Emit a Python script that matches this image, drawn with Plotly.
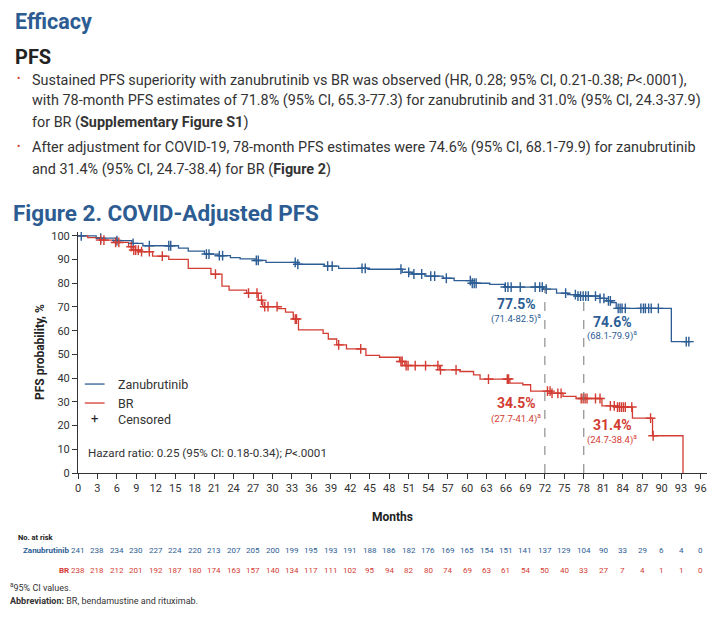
import plotly.graph_objects as go

# --- data ---
zanu_t = [0, 2.8, 6.0, 8.3, 10.0, 15.5, 17.0, 19.5, 21.8, 23.5, 25.0, 27.3, 29.0,
          33.8, 38.0, 40.2, 44.7, 50.0, 51.5, 53.5, 56.3, 58.0, 60.8, 63.5, 65.8,
          71.8, 73.8, 75.5, 77.0, 80.5, 81.5, 82.3, 83.0, 91.5]
zanu_s = [100, 99.0, 98.0, 96.8, 95.8, 94.8, 93.5, 92.3, 91.6, 90.8, 90.3, 89.6, 88.8,
          88.0, 87.2, 86.3, 85.9, 84.6, 83.9, 83.0, 82.1, 81.1, 80.0, 79.5, 78.4,
          77.5, 75.8, 75.2, 74.6, 73.6, 72.6, 71.8, 69.4, 55.4]
zanu_end = 94.4

br_t = [0, 1.5, 3.3, 5.5, 7.8, 8.5, 9.5, 11.5, 14.0, 17.0, 20.5, 22.2, 23.3, 26.0,
        27.8, 28.5, 30.8, 32.0, 33.2, 34.0, 37.8, 38.6, 39.9, 41.4, 44.4, 46.5,
        49.6, 50.4, 55.8, 58.9, 61.0, 62.0, 66.6, 68.6, 69.8, 73.0, 74.8, 76.8,
        80.8, 83.0, 85.5, 88.6, 93.3]
br_s = [100, 99.2, 98.2, 97.2, 95.4, 94.0, 93.3, 91.4, 90.1, 86.3, 83.8, 78.8, 77.1, 75.8,
        72.9, 70.1, 69.3, 67.8, 64.9, 60.3, 58.9, 56.5, 54.0, 52.3, 49.6, 48.8,
        47.0, 45.3, 43.5, 42.8, 41.4, 39.6, 37.9, 37.2, 34.5, 33.6, 32.3, 31.4,
        28.3, 27.8, 23.1, 15.7, 0]

zanu_cens = [0.5, 3.5, 6, 8.5, 11, 14, 14.3, 19.8, 20.2, 21.8, 22.3, 27.5, 27.8, 33.5,
             33.9, 38.5, 39.2, 43.8, 44.3, 49.8, 51, 51.8, 53, 54.4, 55, 56.8, 60.5,
             60.8, 61.1, 61.4, 65.9, 66.3, 66.8, 68.2, 70.5, 71.2, 71.6, 72.2, 75.2,
             76.7, 77.1, 77.5, 77.9, 78.3, 78.7, 79.8, 80.5, 81.1, 81.8, 82.1, 83.3,
             83.6, 83.9, 84.4, 86.8, 87.2, 87.5, 88.0, 88.4, 89.5, 93.8, 94.2]
br_cens = [3.5, 4, 5.8, 6.3, 8.2, 8.6, 8.9, 9.3, 9.8, 11, 13, 21.2, 26.3, 27.6, 28.3,
           28.8, 29.3, 30.7, 33.5, 33.7, 40.2, 43.6, 49.8, 50, 50.6, 50.9, 52, 53.6,
           55.5, 55.9, 58.3, 63.3, 66.2, 66.4, 72.4, 72.8, 73.1, 74, 74.5, 77.6, 77.9,
           78.2, 78.5, 79.8, 80.5, 82.1, 82.7, 83.2, 83.5, 83.8, 84.1, 84.4, 85.4,
           88.3, 88.7]

risk_months = list(range(0, 97, 3))
zanu_risk = [241, 238, 234, 230, 227, 224, 220, 213, 207, 205, 200, 199, 195, 193, 191,
             188, 186, 182, 176, 169, 165, 154, 151, 141, 137, 129, 104, 90, 33, 29, 6, 4, 0]
br_risk = [238, 218, 212, 201, 192, 187, 180, 174, 163, 157, 140, 134, 117, 111, 102,
           95, 94, 82, 80, 74, 69, 63, 61, 54, 50, 40, 33, 27, 7, 4, 1, 1, 0]

BLUE = "#2c5d94"
RED = "#d23c33"
TITLE_BLUE = "#2c5c92"
FONT = "Roboto"

# the page body has an 8px margin, so the figure is 16px smaller than the window
W, H = 701, 607
# plot area in window pixels
X0, X1, Y0, Y1 = 78, 707, 232, 473
OFF = 8


def px(x):
    return (x - X0) / (X1 - X0)


def py(y):
    return (Y1 - y) / (Y1 - Y0)


def step_at(times, surv, t):
    val = surv[0]
    for ti, si in zip(times, surv):
        if ti <= t:
            val = si
    return val


fig = go.Figure()

fig.add_trace(go.Scatter(x=zanu_t + [zanu_end], y=zanu_s + [zanu_s[-1]], mode="lines",
                         line=dict(color=BLUE, width=1.3, shape="hv"), hoverinfo="skip"))
fig.add_trace(go.Scatter(x=br_t, y=br_s, mode="lines",
                         line=dict(color=RED, width=1.3, shape="hv"), hoverinfo="skip"))
fig.add_trace(go.Scatter(x=zanu_cens, y=[step_at(zanu_t, zanu_s, t) for t in zanu_cens],
                         mode="markers", hoverinfo="skip",
                         marker=dict(symbol="cross-thin", size=7, line=dict(color=BLUE, width=1.4))))
fig.add_trace(go.Scatter(x=br_cens, y=[step_at(br_t, br_s, t) for t in br_cens],
                         mode="markers", hoverinfo="skip",
                         marker=dict(symbol="cross-thin", size=7, line=dict(color=RED, width=1.4))))

# dashed landmark lines
for m in (72, 78):
    fig.add_shape(type="line", x0=m, x1=m, y0=0, y1=step_at(zanu_t, zanu_s, m),
                  line=dict(color="#777777", width=1, dash="dash"))

ann = []


def txt(x, y, s, size, color="#333333", anchor="left", xref="paper", yref="paper", **kw):
    ann.append(dict(x=x, y=y, xref=xref, yref=yref, text=s, showarrow=False,
                    xanchor=anchor, yanchor="middle",
                    font=dict(family=FONT, size=size, color=color), **kw))


# landmark labels
txt(67.6, 71.3, "<b>77.5%</b>", 14, BLUE, "center", "x", "y")
txt(67.6, 65.2, "(71.4-82.5)<sup>a</sup>", 9.5, BLUE, "center", "x", "y")
txt(82.5, 63.8, "<b>74.6%</b>", 14, BLUE, "center", "x", "y")
txt(82.4, 57.8, "(68.1-79.9)<sup>a</sup>", 9.5, BLUE, "center", "x", "y")
txt(67.6, 29.5, "<b>34.5%</b>", 14, RED, "center", "x", "y")
txt(67.6, 23.1, "(27.7-41.4)<sup>a</sup>", 9.5, RED, "center", "x", "y")
txt(82.5, 20.3, "<b>31.4%</b>", 14, RED, "center", "x", "y")
txt(82.4, 14.3, "(24.7-38.4)<sup>a</sup>", 9.5, RED, "center", "x", "y")

# legend
fig.add_shape(type="line", x0=1.05, x1=4.1, y0=37.5, y1=37.5, line=dict(color=BLUE, width=1.3))
fig.add_shape(type="line", x0=1.05, x1=4.1, y0=29.5, y1=29.5, line=dict(color=RED, width=1.3))
txt(2.6, 22.9, "+", 13, "#222222", "center", "x", "y")
txt(5.9, 37.5, "Zanubrutinib", 12.5, "#333333", "left", "x", "y")
txt(5.9, 29.5, "BR", 12.5, "#333333", "left", "x", "y")
txt(5.9, 22.7, "Censored", 12.5, "#333333", "left", "x", "y")
txt(1.2, 8.4, "Hazard ratio: 0.25 (95% CI: 0.18-0.34); <i>P</i>&lt;.0001", 11.6, "#333333", "left", "x", "y")

# axis titles
txt(px(40), py(352), "<b>PFS probability, %</b>", 12, "#222222", "center", textangle=-90)
txt(px(392), py(517), "<b>Months</b>", 12, "#222222", "center")

# page text
txt(px(13), py(21), "<b>Efficacy</b>", 21.5, TITLE_BLUE)
txt(px(13), py(57), "<b>PFS</b>", 20, "#222222")
for yb in (80, 148):
    txt(px(15), py(yb - 2), "•", 10, RED)
lines = [
    (80, "Sustained PFS superiority with zanubrutinib vs BR was observed (HR, 0.28; 95% CI, 0.21-0.38; <i>P</i>&lt;.0001),"),
    (101, "with 78-month PFS estimates of 71.8% (95% CI, 65.3-77.3) for zanubrutinib and 31.0% (95% CI, 24.3-37.9)"),
    (122, "for BR (<b>Supplementary Figure S1</b>)"),
    (148, "After adjustment for COVID-19, 78-month PFS estimates were 74.6% (95% CI, 68.1-79.9) for zanubrutinib"),
    (169, "and 31.4% (95% CI, 24.7-38.4) for BR (<b>Figure 2</b>)"),
]
for yl, s in lines:
    txt(px(30), py(yl), s, 14.4, "#333333")
txt(px(11), py(213), "<b>Figure 2. COVID-Adjusted PFS</b>", 22.5, TITLE_BLUE)

# number at risk
txt(px(16), py(537), "<b>No. at risk</b>", 7.5, "#222222")
txt(px(71), py(550), "<b>Zanubrutinib</b>", 8, BLUE, "right")
txt(px(71), py(570), "<b>BR</b>", 8, RED, "right")
for m, zn, bn in zip(risk_months, zanu_risk, br_risk):
    txt(m, py(550), str(zn), 8, BLUE, "center", "x")
    txt(m, py(570), str(bn), 8, RED, "center", "x")

# footnotes
txt(px(8), py(587), "<sup>a</sup>95% CI values.", 9, "#333333")
txt(px(8), py(601), "<b>Abbreviation:</b> BR, bendamustine and rituximab.", 9, "#333333")

fig.update_layout(
    width=W, height=H,
    margin=dict(l=X0 - OFF, r=W - (X1 - OFF), t=Y0 - OFF, b=H - (Y1 - OFF)),
    paper_bgcolor="white", plot_bgcolor="white",
    showlegend=False,
    annotations=ann,
    font=dict(family=FONT, size=11, color="#333333"),
    xaxis=dict(range=[0, 97], tickmode="array", tickvals=risk_months,
               ticks="outside", ticklen=5, tickcolor="#333333", showgrid=False,
               zeroline=False, showline=True, linecolor="#333333", linewidth=1,
               tickfont=dict(size=11, color="#333333"), fixedrange=True),
    yaxis=dict(range=[0, 101.6], tickvals=list(range(0, 101, 10)),
               ticks="outside", ticklen=5, tickcolor="#333333", showgrid=False,
               zeroline=False, showline=True, linecolor="#333333", linewidth=1,
               tickfont=dict(size=11, color="#333333"), fixedrange=True),
)

fig.write_html("out.html")
